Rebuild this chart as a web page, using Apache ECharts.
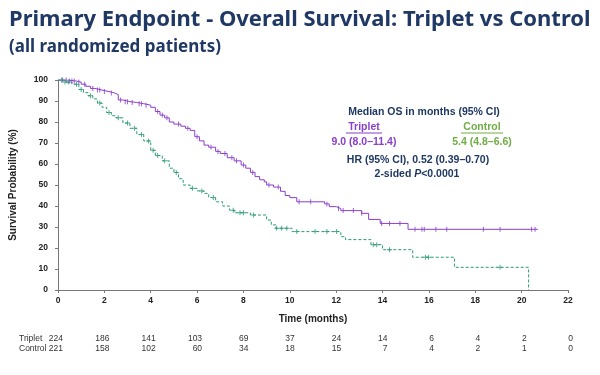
<!DOCTYPE html>
<html>
<head>
<meta charset="utf-8">
<script src="https://cdn.jsdelivr.net/npm/echarts@6/dist/echarts.min.js"></script>
<style>
    html, body { margin: 0; padding: 0; background: #fff; }
    #km_chart { width: 600px; height: 375px; }
</style>
</head>
<body>
<div id="km_chart"></div>
<script>

// Chart data
// ------------------------------

// Kaplan-Meier steps, triplet arm (months / survival %)
var tripletTime = [0, 0.4, 0.8, 1.0, 1.2, 1.4, 1.6, 1.9, 2.2, 2.45, 2.6, 2.8, 3.1, 3.4, 3.7, 4.0, 4.2, 4.4, 4.6, 4.8,
    5.0, 5.3, 5.5, 5.7, 5.9, 6.1, 6.3, 6.5, 6.8, 7.0, 7.3, 7.6, 7.9, 8.1, 8.3, 8.5, 8.7, 8.9, 9.0, 9.3,
    9.6, 9.8, 10.0, 10.3, 11.5, 11.7, 12.0, 12.2, 13.1, 13.4, 13.9, 15.1, 20.7];
var tripletSurv = [100, 99.5, 99, 98, 97, 96, 95.2, 94.5, 93.8, 93, 90.5, 89.7, 89.3, 88.7, 88, 87, 85, 83.3, 82, 80,
    79, 78, 77, 76, 73, 71, 69, 68, 66, 65, 63, 61.5, 59.5, 58, 56, 54, 52.5, 51.5, 50, 49,
    47, 45, 44, 42, 41, 39.7, 38.8, 37.8, 36.5, 33.6, 31.7, 28.9, 28.9];

// Kaplan-Meier steps, control arm
var controlTime = [0, 0.3, 0.6, 0.9, 1.1, 1.3, 1.5, 1.7, 1.9, 2.1, 2.3, 2.5, 2.8, 3.1, 3.4, 3.7, 4.0, 4.2, 4.5, 4.8,
    5.0, 5.2, 5.4, 5.7, 6.0, 6.3, 6.5, 6.8, 7.1, 7.4, 7.6, 8.3, 9.0, 9.2, 9.4, 10.1, 12.2, 12.4, 13.5, 14.0,
    15.3, 17.1, 20.3];
var controlSurv = [100, 99, 98, 95.5, 94, 92.5, 91, 89, 87, 84.5, 83, 82, 79.5, 77, 74, 71, 66.5, 64, 61.5, 58,
    56, 53, 50, 48.4, 47.2, 46, 44, 42, 40, 38, 36.8, 35.7, 33.3, 31, 29.4, 27.8, 25.4, 24, 21.6, 19.2,
    15.6, 10.8, 0];

// Censored observations (months)
var tripletCensor = [0.2, 0.35, 0.5, 0.6, 0.7, 0.9, 1.15, 1.5, 1.7, 1.8, 2.0, 2.3, 2.7, 2.9, 3.0, 3.2, 3.5, 3.6, 3.8,
    4.3, 4.5, 4.7, 5.2, 5.6, 6.0, 6.6, 6.9, 7.2, 7.5, 7.7, 8.0, 8.4, 9.1, 9.5, 10.4, 10.9, 11.6, 12.1, 12.3,
    12.74, 13.1, 13.96, 14.3, 14.75, 15.4, 15.7, 15.8, 16.3, 16.77, 18.35, 19.07, 20.43, 20.58];
var controlCensor = [0.15, 0.3, 0.45, 0.8, 1.0, 1.4, 1.8, 2.2, 2.6, 3.0, 3.3, 3.6, 3.9, 4.1, 4.3, 4.6, 5.1, 5.8,
    6.2, 6.7, 7.56, 7.85, 8.0, 8.43, 9.43, 9.65, 9.87, 10.3, 11.09, 11.6, 12.02, 13.6, 13.75, 14.3,
    15.85, 15.98, 19.07];

// Number at risk
var riskTimes = [0, 2, 4, 6, 8, 10, 12, 14, 16, 18, 20, 22];
var riskTriplet = [224, 186, 141, 103, 69, 37, 24, 14, 6, 4, 2, 0];
var riskControl = [221, 158, 102, 60, 34, 18, 15, 7, 4, 2, 1, 0];


// Setup module
// ------------------------------

var KaplanMeierChart = function() {

    var PURPLE = '#8a3fc9';
    var GREEN = '#2d9a78';
    var LIME = '#70ad47';
    var NAVY = '#1f3864';
    var FONT = 'Liberation Sans, Arial, sans-serif';

    // Survival value at time t (step function)
    var survivalAt = function(times, surv, t) {
        var s = surv[0];
        for (var i = 0; i < times.length; i++) {
            if (times[i] <= t) s = surv[i];
        }
        return s;
    };

    var toPairs = function(times, surv) {
        return times.map(function(t, i) { return [t, surv[i]]; });
    };

    var censorPairs = function(censor, times, surv) {
        return censor.map(function(t) { return [t, survivalAt(times, surv, t)]; });
    };

    var _kmChart = function() {
        var el = document.getElementById('km_chart');
        var chart = echarts.init(el, null, { renderer: 'canvas' });

        chart.setOption({
            animation: false,
            textStyle: { fontFamily: FONT },

            title: [{
                text: 'Primary Endpoint - Overall Survival: Triplet vs Control',
                left: 4,
                top: 4,
                textStyle: { fontFamily: 'Noto Sans, sans-serif', fontSize: 22, fontWeight: 'bold', color: NAVY }
            }, {
                text: '(all randomized patients)',
                left: 4,
                top: 34,
                textStyle: { fontFamily: 'Noto Sans, sans-serif', fontSize: 17, fontWeight: 'bold', color: NAVY }
            }],

            grid: { left: 58, right: 32, top: 80, bottom: 85 },

            xAxis: {
                type: 'value',
                min: 0,
                max: 22,
                interval: 2,
                offset: 2,
                name: 'Time (months)',
                nameLocation: 'middle',
                nameGap: 22,
                nameTextStyle: { fontSize: 10, fontWeight: 'bold', color: '#222' },
                axisLine: { lineStyle: { color: '#777' } },
                axisTick: { length: 3, lineStyle: { color: '#777' } },
                axisLabel: { fontSize: 8.5, fontWeight: 'bold', color: '#222', margin: 4 },
                splitLine: { show: false }
            },

            yAxis: {
                type: 'value',
                min: 0,
                max: 100,
                interval: 10,
                offset: 6,
                name: 'Survival Probability (%)',
                nameLocation: 'middle',
                nameGap: 34,
                nameTextStyle: { fontSize: 10, fontWeight: 'bold', color: '#222' },
                axisLine: { show: true, lineStyle: { color: '#777' } },
                axisTick: { show: true, length: 3, lineStyle: { color: '#777' } },
                axisLabel: { fontSize: 8.5, fontWeight: 'bold', color: '#222', margin: 4 },
                splitLine: { show: false }
            },

            series: [{
                name: 'Triplet',
                type: 'line',
                step: 'end',
                showSymbol: false,
                data: toPairs(tripletTime, tripletSurv),
                lineStyle: { color: PURPLE, width: 1 },
                z: 3
            }, {
                name: 'Control',
                type: 'line',
                step: 'end',
                showSymbol: false,
                data: toPairs(controlTime, controlSurv),
                lineStyle: { color: GREEN, width: 1, type: [3, 2] },
                z: 2
            }, {
                name: 'Triplet censored',
                type: 'scatter',
                symbol: 'rect',
                symbolSize: [1, 5],
                data: censorPairs(tripletCensor, tripletTime, tripletSurv),
                itemStyle: { color: PURPLE },
                z: 4
            }, {
                name: 'Control censored',
                type: 'scatter',
                symbol: 'path://M2,0h1v5h-1zM0,2h5v1h-5z',
                symbolSize: 5,
                data: censorPairs(controlCensor, controlTime, controlSurv),
                itemStyle: { color: GREEN },
                z: 4
            }]
        });

        // Number-at-risk table and annotation
        var graphics = [];
        var rowY = [339, 349];
        var rowNames = ['Triplet', 'Control'];
        var rowData = [riskTriplet, riskControl];
        var tableFont = '8.5px ' + FONT;

        rowNames.forEach(function(name, r) {
            graphics.push({
                type: 'text', x: 19, y: rowY[r],
                style: { text: name, font: tableFont, fill: '#333', verticalAlign: 'middle' }
            });
            riskTimes.forEach(function(t, i) {
                var x = chart.convertToPixel({ xAxisIndex: 0 }, t);
                graphics.push({
                    type: 'text', x: x + 5, y: rowY[r],
                    style: {
                        text: String(rowData[r][i]), font: tableFont, fill: '#333',
                        align: 'right', verticalAlign: 'middle'
                    }
                });
            });
        });

        var boldFont = 'bold 10.5px ' + FONT;
        var label = function(text, x, y, color) {
            return {
                type: 'text', x: x, y: y,
                style: { text: text, font: boldFont, fill: color, align: 'center', verticalAlign: 'middle' }
            };
        };

        graphics.push(label('Median OS in months (95% CI)', 424, 112, NAVY));
        graphics.push(label('Triplet', 364, 127, PURPLE));
        graphics.push(label('Control', 482, 127, LIME));
        graphics.push({ type: 'line', shape: { x1: 346, y1: 133, x2: 382, y2: 133 }, style: { stroke: PURPLE, lineWidth: 1 } });
        graphics.push({ type: 'line', shape: { x1: 461, y1: 133, x2: 503, y2: 133 }, style: { stroke: LIME, lineWidth: 1 } });
        graphics.push(label('9.0 (8.0\u201311.4)', 364, 142, PURPLE));
        graphics.push(label('5.4 (4.8\u20136.6)', 482, 142, LIME));
        graphics.push(label('HR (95% CI), 0.52 (0.39\u20130.70)', 418, 160, NAVY));
        graphics.push({
            type: 'text', x: 417, y: 174,
            style: {
                text: '{a|2-sided }{b|P}{a|<0.0001}',
                align: 'center', verticalAlign: 'middle',
                rich: {
                    a: { font: boldFont, fill: NAVY, color: NAVY },
                    b: { font: 'italic ' + boldFont, fill: NAVY, color: NAVY }
                }
            }
        });

        chart.setOption({ graphic: graphics });
    };

    return {
        init: function() {
            _kmChart();
        }
    };
}();


// Initialize module
// ------------------------------

document.addEventListener('DOMContentLoaded', function() {
    KaplanMeierChart.init();
});
</script>
</body>
</html>
